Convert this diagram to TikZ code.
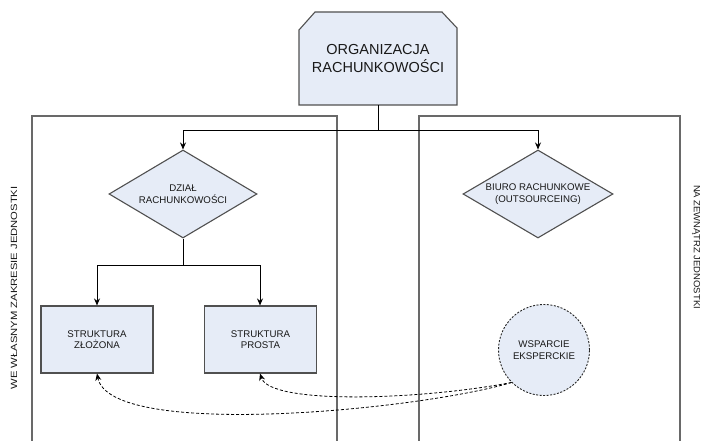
\documentclass[tikz,border=0pt]{standalone}
\usepackage{fontspec}
\setmainfont{Liberation Sans}
\usetikzlibrary{shapes.geometric,arrows.meta}
\definecolor{boxfill}{RGB}{230,236,247}
\definecolor{boxline}{RGB}{80,80,80}
\definecolor{panelline}{RGB}{105,105,105}
\begin{document}
\begin{tikzpicture}[x=1pt,y=-1pt,
  boxstyle/.style={draw=boxline,fill=boxfill,line width=1.1pt},
  smalltext/.style={font=\fontsize{9.7}{11.5}\selectfont,align=center,text=black!90},
  conn/.style={draw=black,line width=0.9pt,-{Stealth[length=7pt,width=6pt]}},
  plainconn/.style={draw=black,line width=0.9pt},
  dashconn/.style={draw=black,line width=0.8pt,densely dashed,-{Stealth[length=7pt,width=6pt]}},
  panel/.style={draw=panelline,line width=1.2pt},
  sidetext/.style={font=\fontsize{9}{11}\selectfont,text=black!90}
]
\useasboundingbox (0,0) rectangle (705,441);
\fill[white] (0,0) rectangle (705,441);

% panels
\draw[panel] (32,441) -- (32,116) -- (337,116) -- (337,441);
\draw[panel] (419,441) -- (419,116) -- (680,116) -- (680,441);

% top box (chamfered top corners)
\draw[boxstyle,line join=miter] (299,105) -- (299,30) -- (315,12) -- (442,12) -- (457,28) -- (457,105) -- cycle;
\node[rectangle,minimum width=158pt,minimum height=93pt,inner sep=0pt,
  font=\fontsize{14.5}{17.5}\selectfont,align=center,text=black!90]
  (org) at (378,58.5) {ORGANIZACJA\\RACHUNKOWOŚCI};

% diamonds
\node[boxstyle,diamond,aspect=1.7,minimum width=148pt,minimum height=88pt,inner sep=0pt,smalltext]
  (dzial) at (183,194) {DZIAŁ\\RACHUNKOWOŚCI};
\node[boxstyle,diamond,aspect=1.7,minimum width=150pt,minimum height=88pt,inner sep=0pt,smalltext]
  (biuro) at (538,194) {BIURO RACHUNKOWE\\(OUTSOURCEING)};

% boxes
\node[boxstyle,rectangle,minimum width=112pt,minimum height=67pt,inner sep=0pt,smalltext]
  (zlozona) at (97,339.5) {STRUKTURA\\ZŁOŻONA};
\node[boxstyle,rectangle,minimum width=112pt,minimum height=67pt,inner sep=0pt,smalltext]
  (prosta) at (260.5,339.5) {STRUKTURA\\PROSTA};

% circle
\node[draw=black!85,fill=boxfill,line width=0.9pt,dash pattern=on 2pt off 1.5pt,circle,minimum size=91pt,inner sep=0pt,smalltext]
  (wsparcie) at (544,350) {WSPARCIE\\EKSPERCKIE};

% connectors
\coordinate (j1) at (378,130);
\coordinate (j2) at (183,265);
\draw[plainconn] (org.south) -- (j1);
\draw[conn] (j1) -| (dzial.north);
\draw[conn] (j1) -| (biuro.north);
\draw[plainconn] (dzial.south) -- (j2);
\draw[conn] (j2) -| (zlozona.north);
\draw[conn] (j2) -| ([xshift=-0.5pt]prosta.north);

% dashed curves
\draw[dashconn] (wsparcie.225) .. controls (420,410) and (110,440) .. (zlozona.south);
\draw[dashconn] (wsparcie.225) .. controls (420,400) and (270,405) .. ([xshift=-0.5pt]prosta.south);

% side texts
\node[sidetext,rotate=90] (lefttext) at (14,288) {\scalebox{1.25}[1]{WE WŁASNYM ZAKRESIE JEDNOSTKI}};
\node[sidetext,rotate=-90] (righttext) at (696,247) {\scalebox{1.05}[1]{NA ZEWNĄTRZ JEDNOSTKI}};
\end{tikzpicture}
\end{document}
